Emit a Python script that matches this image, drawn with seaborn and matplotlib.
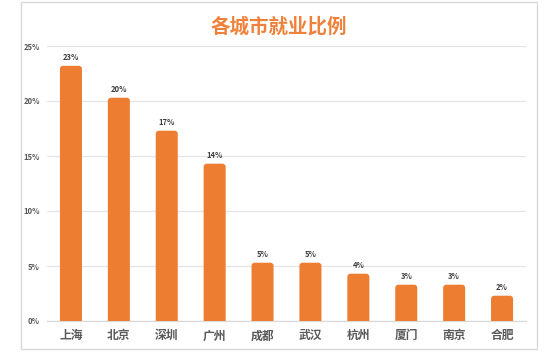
import matplotlib
matplotlib.use("Agg")
import matplotlib.pyplot as plt
import seaborn as sns
import pandas as pd
from matplotlib.patches import FancyBboxPatch, Rectangle
from matplotlib.ticker import FuncFormatter

cities = ["上海", "北京", "深圳", "广州", "成都", "武汉", "杭州", "厦门", "南京", "合肥"]
shares = [23.2, 20.3, 17.3, 14.3, 5.3, 5.3, 4.3, 3.3, 3.3, 2.3]
bar_labels = ["23%", "20%", "17%", "14%", "5%", "5%", "4%", "3%", "3%", "2%"]
yticks = [0, 5, 10, 15, 20, 25]
title = "各城市就业比例"

sns.set_theme(style="white")
plt.rcParams['font.family'] = ['Noto Sans CJK SC', 'DejaVu Sans']

W, H = 545, 353
fig = plt.figure(figsize=(W / 100, H / 100), dpi=100)
fig.patch.set_facecolor("white")

# frame
fig.patches.append(Rectangle((21 / W, 1 - 349 / H), (537 - 21) / W, (349 - 2) / H,
                             transform=fig.transFigure, fill=False,
                             edgecolor="#D9D9D9", linewidth=1.0, zorder=0))

ax = fig.add_axes([47 / W, 1 - 321 / H, (526 - 47) / W, (321 - 46) / H])
df = pd.DataFrame({"city": cities, "share": shares})
orange = "#ED7D31"
sns.barplot(data=df, x="city", y="share", color=orange, width=0.46,
            saturation=1, ax=ax, zorder=3)

ax.set_xlim(-0.5, 9.5)
ax.set_ylim(0, 25)

# rounded tops
px_x = (526 - 47) / 10.0   # px per category
px_y = (321 - 46) / 25.0   # px per percent
aspect = (1 / px_y) / (1 / px_x)
old = list(ax.patches)
for p in old:
    x, w, h = p.get_x(), p.get_width(), p.get_height()
    fb = FancyBboxPatch((x, -1), w, h + 1,
                        boxstyle="round,pad=0,rounding_size=0.065",
                        mutation_aspect=aspect, facecolor=orange,
                        edgecolor="none", zorder=3, clip_on=True)
    p.remove()
    ax.add_patch(fb)

for i, (v, lab) in enumerate(zip(shares, bar_labels)):
    ax.text(i, v + 0.35, lab, ha="center", va="bottom", fontsize=5.5,
            fontweight="bold", color="#404040")

ax.set_yticks(yticks)
ax.yaxis.set_major_formatter(FuncFormatter(lambda v, _: f"{int(v)}%"))
ax.grid(axis="y", color="#E4E4E4", linewidth=0.9, zorder=0)
ax.grid(axis="x", visible=False)
for s in ["top", "right", "left"]:
    ax.spines[s].set_visible(False)
ax.spines["bottom"].set_color("#D9D9D9")
ax.spines["bottom"].set_linewidth(0.9)
ax.tick_params(axis="y", length=0, pad=5, labelsize=5.5, labelcolor="#595959")
ax.tick_params(axis="x", length=0, pad=6, labelsize=8.5, labelcolor="#595959")
for t in ax.get_yticklabels():
    t.set_fontweight("bold")
for t in ax.get_xticklabels():
    t.set_fontweight("bold")
ax.set_xlabel("")
ax.set_ylabel("")
ax.set_facecolor("white")

fig.text(279 / W, 1 - 27 / H, title, ha="center", va="center", fontsize=14,
         fontweight="bold", color="#F0813A")

fig.savefig("out.png", dpi=100, facecolor="white")
